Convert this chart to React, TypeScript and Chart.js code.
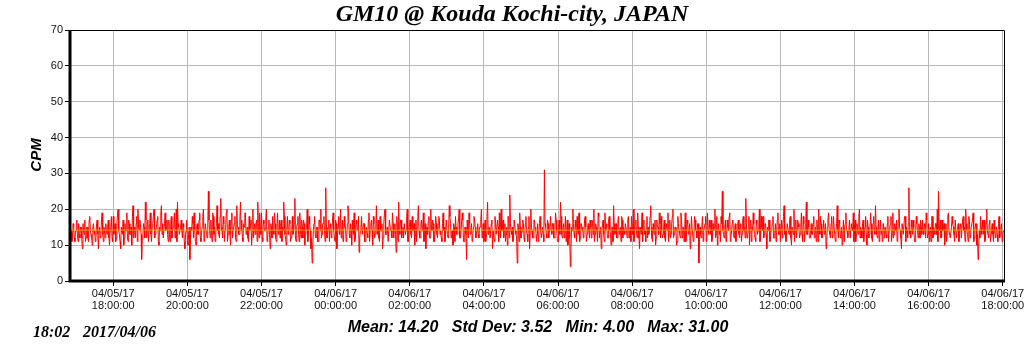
import React, { useEffect, useRef } from "react";
import { Chart, registerables } from "chart.js";

Chart.register(...registerables);

// minutes from 04/05/17 16:50; even-minute samples (one row per hour)
const cpmEvenRows: number[][] = [
  [10,14,12,15,11,14,13,16,12,15,9,14,17,12,15,11,18,13,10,16,14,12,17,9,15,13,19,11,14,16],
  [13,17,10,15,12,18,14,11,16,20,13,9,15,17,12,14,19,11,16,13,10,21,15,12,18,20,14,16,6,13],
  [15,22,12,17,14,19,11,16,20,13,15,18,10,14,21,16,12,19,15,13,17,11,18,14,16,12,20,22,15,13],
  [17,12,15,9,14,11,13,6,15,18,12,14,10,16,13,19,11,15,20,13,16,12,25,14,17,11,18,15,13,21],
  [16,12,23,14,18,11,15,20,13,17,10,19,14,16,12,21,15,13,22,17,11,15,19,14,12,18,16,10,20,14],
  [13,17,22,12,15,19,11,16,14,20,12,17,9,15,18,13,16,11,19,14,12,17,15,22,13,10,18,14,16,12],
  [18,14,23,11,16,13,19,12,15,17,10,14,20,13,16,9,5,14,18,12,15,11,17,20,13,16,14,26,12,15],
  [11,16,14,19,12,17,9,15,13,20,14,11,18,15,12,21,13,16,10,14,19,12,17,15,8,14,18,13,16,11],
  [15,12,19,14,17,10,16,13,21,15,12,18,14,9,16,20,13,15,11,17,14,19,12,16,8,15,22,13,17,14],
  [12,16,14,20,11,15,13,18,14,10,17,15,21,12,16,14,19,13,9,15,17,12,20,14,16,11,18,13,15,17],
  [14,11,19,15,13,17,12,21,16,14,10,15,18,13,16,20,12,14,17,11,15,6,14,19,13,16,12,18,15,13],
  [16,12,15,20,14,11,17,13,22,15,12,16,9,14,18,13,17,11,15,20,14,12,16,13,10,18,24,14,15,12],
  [17,13,5,15,19,12,14,16,11,18,13,15,9,20,14,12,17,15,13,11,16,14,12,13,31,15,12,16,14,18],
  [13,16,12,19,14,11,17,22,13,15,12,18,14,10,16,4,15,20,13,17,11,14,19,12,16,15,13,18,11,15],
  [14,17,12,16,20,13,15,11,18,14,9,16,13,19,15,12,17,14,10,15,21,13,16,12,18,14,11,17,15,13],
  [16,12,18,14,11,15,20,13,17,12,15,9,14,19,16,13,11,18,15,14,21,12,16,13,10,17,15,19,12,14],
  [13,17,11,15,19,14,12,16,20,13,15,10,18,14,12,17,15,11,19,13,16,14,9,18,15,12,17,14,16,5],
  [15,12,18,14,16,11,19,13,15,17,12,14,20,13,10,16,14,18,25,13,15,11,17,14,19,12,16,13,15,11],
  [14,17,12,16,13,18,15,23,12,14,10,17,15,19,13,11,16,14,20,12,15,18,13,16,9,14,17,12,15,18],
  [12,16,14,19,13,11,17,15,21,14,12,16,13,18,10,15,20,14,12,17,15,13,19,11,16,14,22,13,15,12],
  [16,13,18,14,11,15,20,13,16,12,17,14,9,15,19,13,16,12,18,15,14,21,12,16,13,10,17,15,19,14],
  [13,17,12,15,19,14,11,16,13,20,15,12,17,14,18,10,15,13,19,12,16,14,21,13,15,11,17,14,16,12],
  [15,12,18,14,16,11,19,13,15,17,12,20,14,9,16,13,18,15,12,26,14,17,13,15,11,18,14,16,12,15],
  [17,13,15,19,12,16,14,11,18,15,13,16,20,25,14,12,17,15,10,16,13,19,14,12,18,15,11,17,14,16],
  [13,16,12,18,15,20,14,11,17,13,15,19,12,16,10,6,14,18,13,15,17,12,20,14,16,11,15,13,17,12],
  [15,11,18,13,16,12,14],
];
// odd-minute samples (one minute after each even sample)
const cpmOddRows: number[][] = [
  [13,11,16,12,14,17,11,13,15,12,16,13,11,15,12,17,14,12,15,13,11,16,13,14,12,17,13,15,12,14],
  [15,12,14,18,11,13,16,12,19,14,11,15,13,10,16,14,12,17,13,15,18,12,14,16,11,15,17,13,12,16],
  [12,17,14,11,16,13,15,18,12,14,17,11,15,19,13,12,16,14,17,11,13,16,12,15,19,14,11,16,13,15],
  [14,16,11,13,17,10,15,12,14,16,19,11,15,13,17,12,14,18,11,16,13,15,17,12,14,19,13,11,16,14],
  [13,18,15,12,16,14,19,11,15,13,17,12,14,18,11,15,13,17,14,12,16,19,13,15,11,14,17,13,12,16],
  [16,11,15,19,13,12,17,14,18,11,15,13,16,12,14,19,12,15,13,17,16,11,14,18,12,15,13,17,11,14],
  [13,16,12,15,18,11,14,17,12,16,13,15,11,18,14,12,10,16,13,15,11,17,14,12,16,18,11,15,13,17],
  [15,12,17,14,11,16,13,18,15,12,17,13,15,11,16,19,12,14,17,13,11,16,14,18,12,15,13,16,11,14],
  [13,17,11,16,14,18,12,15,13,17,11,14,16,12,19,13,15,11,17,14,12,16,15,13,18,11,14,17,12,15],
  [16,13,18,11,15,17,12,14,16,13,11,18,14,12,17,15,11,16,14,13,18,12,15,17,11,14,16,12,18,13],
  [12,16,14,11,17,13,15,18,12,14,16,11,15,13,17,12,14,19,11,15,13,17,12,16,14,11,15,17,12,14],
  [13,15,17,12,16,14,11,18,13,15,12,17,14,11,16,13,15,19,12,14,17,13,11,15,18,12,16,13,11,17],
  [14,12,16,11,15,13,17,12,16,14,11,18,13,15,12,17,14,11,16,13,18,12,15,11,16,13,17,12,15,14],
  [16,12,14,17,11,15,13,18,12,16,14,11,17,13,12,9,14,16,12,15,18,13,11,16,14,12,17,15,13,16],
  [12,15,17,13,11,16,14,19,12,15,13,17,11,14,16,12,18,13,15,11,16,14,12,17,13,15,18,12,14,16],
  [14,17,12,15,18,13,11,16,14,19,12,15,13,11,17,14,16,12,13,18,15,11,14,17,12,15,13,16,18,12],
  [15,12,16,14,11,17,13,18,12,15,14,11,16,13,19,12,15,14,11,17,13,16,12,15,11,18,14,12,16,11],
  [13,16,11,15,18,12,14,17,13,11,16,15,12,18,14,13,11,16,14,12,17,13,15,18,11,14,17,12,16,14],
  [16,13,15,11,17,14,12,16,13,18,15,11,14,16,12,17,13,15,11,18,14,12,16,13,15,17,11,14,16,12],
  [14,11,17,13,16,15,12,18,13,11,16,14,17,12,15,13,11,17,14,16,12,15,13,18,11,16,13,17,12,14],
  [13,16,12,15,17,11,14,18,12,15,13,16,11,17,14,12,18,13,15,11,16,14,17,12,15,13,11,16,14,12],
  [15,12,16,14,11,17,13,15,18,12,14,16,11,15,13,17,12,14,16,11,18,13,15,12,17,14,13,11,16,15],
  [13,16,11,15,18,13,12,16,14,11,17,15,12,16,13,18,11,14,16,13,12,15,17,11,14,16,12,15,17,13],
  [14,16,12,17,13,11,15,18,12,14,16,13,11,15,17,12,14,16,13,11,18,14,12,15,16,13,17,12,15,11],
  [15,12,17,14,11,16,13,18,12,15,17,11,14,16,13,9,12,15,17,13,11,16,14,12,17,13,16,11,14,15],
  [13,16,12,15,11,14],
];
const meanValue = 14.2;
const xMin = 0;
const xMax = 1512;
const tickMinutes = [70, 190, 310, 430, 550, 670, 790, 910, 1030, 1150, 1270, 1390, 1510];
const tickLabels: string[][] = [
  ["04/05/17", "18:00:00"],
  ["04/05/17", "20:00:00"],
  ["04/05/17", "22:00:00"],
  ["04/06/17", "00:00:00"],
  ["04/06/17", "02:00:00"],
  ["04/06/17", "04:00:00"],
  ["04/06/17", "06:00:00"],
  ["04/06/17", "08:00:00"],
  ["04/06/17", "10:00:00"],
  ["04/06/17", "12:00:00"],
  ["04/06/17", "14:00:00"],
  ["04/06/17", "16:00:00"],
  ["04/06/17", "18:00:00"],
];
const titleText = "GM10 @ Kouda Kochi-city, JAPAN";
const yTitle = "CPM";
const statsText = "Mean: 14.20   Std Dev: 3.52   Min: 4.00   Max: 31.00";
const stampTime = "18:02";
const stampDate = "2017/04/06";

const SANS = "'Liberation Sans', Arial, sans-serif";
const SERIF = "'Liberation Serif', 'Times New Roman', serif";

const decor = {
  id: "decor",
  afterDraw(chart: any) {
    const { ctx, chartArea } = chart;
    const { left, right, top, bottom } = chartArea;
    ctx.save();
    ctx.strokeStyle = "#000";
    ctx.lineWidth = 1;
    ctx.beginPath();
    ctx.moveTo(left, top + 0.5);
    ctx.lineTo(right + 0.5, top + 0.5);
    ctx.lineTo(right + 0.5, bottom);
    ctx.stroke();
    ctx.lineWidth = 3;
    ctx.beginPath();
    ctx.moveTo(left, top);
    ctx.lineTo(left, bottom);
    ctx.lineTo(right + 1, bottom);
    ctx.stroke();
    ctx.fillStyle = "#000";
    ctx.textAlign = "center";
    ctx.textBaseline = "middle";
    ctx.font = `italic bold 24px ${SERIF}`;
    ctx.fillText(titleText, 512, 15);
    ctx.save();
    ctx.translate(37, 155);
    ctx.rotate(-Math.PI / 2);
    ctx.font = `italic bold 15px ${SANS}`;
    ctx.fillText(yTitle, 0, 0);
    ctx.restore();
    ctx.font = `italic bold 16px ${SANS}`;
    ctx.fillText(statsText, 538, 328);
    ctx.textAlign = "left";
    ctx.font = `italic bold 16px ${SERIF}`;
    ctx.fillText(stampTime, 33, 333);
    ctx.fillText(stampDate, 83, 333);
    ctx.restore();
  },
};

export default function App() {
  const ref = useRef<HTMLCanvasElement>(null);
  useEffect(() => {
    const values: number[] = [];
    cpmEvenRows.forEach((row, r) => {
      row.forEach((v, i) => {
        values.push(v);
        const o = cpmOddRows[r][i];
        if (o !== undefined) values.push(o);
      });
    });
    const points = values.map((v, i) => ({ x: i, y: v }));
    const chart = new Chart(ref.current!, {
      type: "line",
      data: {
        datasets: [
          {
            data: [
              { x: xMin, y: meanValue },
              { x: xMax, y: meanValue },
            ],
            borderColor: "rgba(225,190,0,0.8)",
            borderWidth: 1,
            pointRadius: 0,
          },
          {
            data: points,
            borderColor: "#ff0000",
            borderWidth: 1,
            pointRadius: 0,
            tension: 0,
          },
        ],
      },
      options: {
        animation: false,
        responsive: false,
        devicePixelRatio: 1,
        layout: { padding: { left: 0, right: 20, top: 30, bottom: 0 } },
        plugins: { legend: { display: false }, tooltip: { enabled: false }, title: { display: false } },
        scales: {
          x: {
            type: "linear",
            min: xMin,
            max: xMax,
            afterBuildTicks: (scale: any) => {
              scale.ticks = tickMinutes.map((v) => ({ value: v }));
            },
            afterFit: (scale: any) => {
              scale.height = 70;
              scale.paddingLeft = 0;
              scale.paddingRight = 0;
            },
            grid: { color: "#b8b8b8", tickColor: "#000", tickLength: 5, lineWidth: 1 },
            border: { display: false },
            ticks: {
              autoSkip: false,
              maxRotation: 0,
              padding: 2,
              color: "#111",
              font: { family: SANS, size: 11, lineHeight: 1.1 },
              callback: (v: any) => {
                const i = tickMinutes.indexOf(Number(v));
                return i >= 0 ? tickLabels[i] : "";
              },
            },
          },
          y: {
            min: 0,
            max: 70,
            afterFit: (scale: any) => {
              scale.width = 70;
            },
            grid: { color: "#b8b8b8", tickColor: "#000", tickLength: 5, lineWidth: 1 },
            border: { display: false },
            ticks: {
              stepSize: 10,
              padding: 2,
              color: "#111",
              font: { family: SANS, size: 11 },
            },
          },
        },
      },
      plugins: [decor],
    } as any);
    return () => chart.destroy();
  }, []);
  return (
    <div style={{ position: "absolute", left: 0, top: 0, width: 1024, height: 351, background: "#fff" }}>
      <canvas ref={ref} width={1024} height={351} />
    </div>
  );
}
